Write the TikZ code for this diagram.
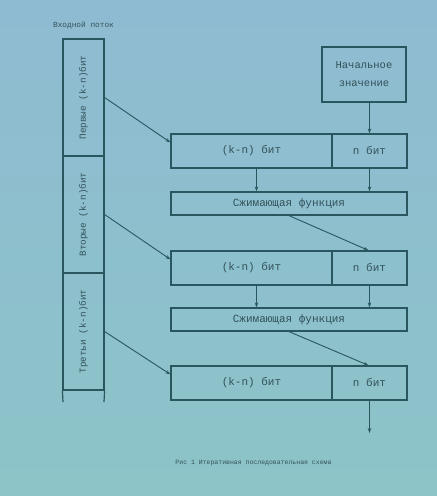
\documentclass[tikz,border=0pt]{standalone}
\usepackage{fontspec}
\setmainfont{Liberation Mono}
\usetikzlibrary{arrows.meta}
\definecolor{bgtop}{HTML}{8FBBD2}
\definecolor{bgbot}{HTML}{8CC4C8}
\definecolor{ink}{HTML}{2A5660}
\definecolor{txt}{HTML}{33525A}
\tikzset{
  box/.style={draw=ink, line width=1.2pt, rectangle, inner sep=0pt, text=txt, font=\fontsize{11}{13}\selectfont},
  seg/.style={draw=ink, line width=1.2pt, rectangle, inner sep=0pt, minimum width=41pt, minimum height=117pt, text=txt},
  vtext/.style={rotate=90, text=txt, font=\fontsize{9.3}{11}\selectfont},
  arr/.style={draw=ink, line width=0.9pt, -{Stealth[length=5pt,width=3.5pt]}},
  ln/.style={draw=ink, line width=1.2pt}
}
\begin{document}
\begin{tikzpicture}[x=1pt,y=-1pt]
\shade[top color=bgtop, bottom color=bgbot] (0,0) rectangle (437,496);
\useasboundingbox (0,0) rectangle (437,496);

% input stream label
\node[text=txt, font=\fontsize{7.8}{9}\selectfont] (inlab) at (83.5,25) {Входной поток};

% column segments
\node[seg] (s1) at (83.5,97.5) {};
\node[seg] (s2) at (83.5,214.5) {};
\node[seg] (s3) at (83.5,331.5) {};
\node[vtext] (t1) at (s1.center) {Первые (k-n)бит};
\node[vtext] (t2) at (s2.center) {Вторые (k-n)бит};
\node[vtext] (t3) at (s3.center) {Третьи (k-n)бит};
\coordinate (bl) at (63,402);
\coordinate (br) at (104,402);
\draw[ln] (s3.south west) -- (bl);
\draw[ln] (s3.south east) -- (br);

% initial value
\node[box, minimum width=84pt, minimum height=55pt, align=center, font=\fontsize{10.5}{18}\selectfont] (init) at (364,74.5) {Начальное\\значение};

% row 1
\node[box, minimum width=161pt, minimum height=34pt] (r1l) at (251.5,151) {(k-n) бит};
\node[box, minimum width=75pt, minimum height=34pt] (r1r) at (369.5,151) {n бит};
\node[box, minimum width=236pt, minimum height=23pt] (c1) at (289,203.5) {Сжимающая функция};

% row 2
\node[box, minimum width=161pt, minimum height=34pt] (r2l) at (251.5,268) {(k-n) бит};
\node[box, minimum width=75pt, minimum height=34pt] (r2r) at (369.5,268) {n бит};
\node[box, minimum width=236pt, minimum height=23pt] (c2) at (289,319.5) {Сжимающая функция};

% row 3
\node[box, minimum width=161pt, minimum height=34pt] (r3l) at (251.5,383) {(k-n) бит};
\node[box, minimum width=75pt, minimum height=34pt] (r3r) at (369.5,383) {n бит};
\coordinate (out) at (369.5,433);

% arrows
\draw[arr] (init.south -| r1r.north) -- (r1r.north);
\draw[arr] (s1.east) -- ([yshift=-9pt]r1l.north west);
\draw[arr] ([xshift=5pt]r1l.south) -- ([xshift=5pt]r1l.south |- c1.north);
\draw[arr] (r1r.south) -- (r1r.south |- c1.north);
\draw[arr] (c1.south) -- ([xshift=-1pt]r2r.north);
\draw[arr] (s2.east) -- ([yshift=-9pt]r2l.north west);
\draw[arr] ([xshift=5pt]r2l.south) -- ([xshift=5pt]r2l.south |- c2.north);
\draw[arr] (r2r.south) -- (r2r.south |- c2.north);
\draw[arr] (c2.south) -- ([xshift=-1pt]r3r.north);
\draw[arr] (s3.east) -- ([yshift=-9pt]r3l.north west);
\draw[arr] (r3r.south) -- (out);

% caption
\node[text=txt, font=\fontsize{6.5}{8}\selectfont] (cap) at (253.5,463) {Рис 1 Итеративная последовательная схема};
\end{tikzpicture}
\end{document}
